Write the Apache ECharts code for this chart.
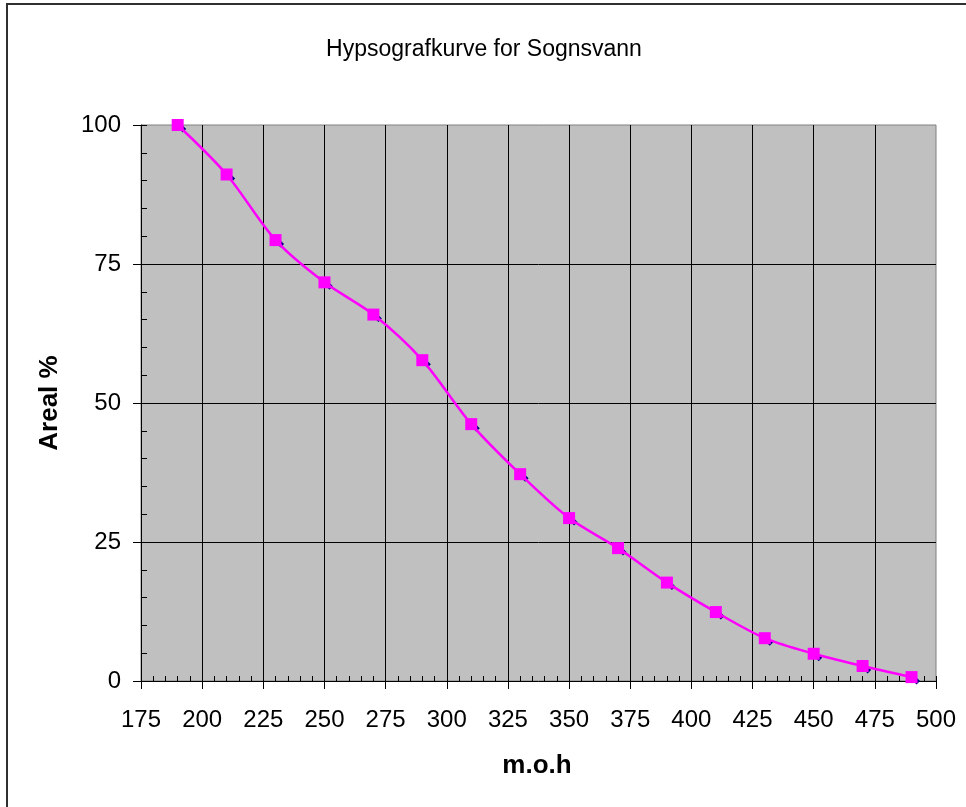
<!DOCTYPE html>
<html>
<head>
<meta charset="utf-8">
<script src="https://cdn.jsdelivr.net/npm/echarts@6/dist/echarts.min.js"></script>
<style>html,body{margin:0;padding:0;background:#fff;}#c{width:966px;height:807px;}</style>
</head>
<body>
<div id="c"></div>
<script>
const titleText = 'Hypsografkurve for Sognsvann';
const xName = 'm.o.h';
const yName = 'Areal %';
const elevation = [190, 210, 230, 250, 270, 290, 310, 330, 350, 370, 390, 410, 430, 450, 470, 490];
const areaPct = [100, 91.1, 79.3, 71.7, 65.9, 57.7, 46.2, 37.2, 29.3, 23.9, 17.7, 12.4, 7.7, 4.9, 2.7, 0.7];

const pts = elevation.map((x, i) => [x, areaPct[i]]);
const font = 'Liberation Sans, Arial, sans-serif';

const chart = echarts.init(document.getElementById('c'), null, {renderer: 'canvas'});
chart.setOption({
  animation: false,
  backgroundColor: '#ffffff',
  title: {
    text: titleText, left: 479, top: 33, textAlign: 'center',
    textStyle: {fontFamily: font, fontSize: 23, fontWeight: 'normal', color: '#000'}
  },
  graphic: [{
    type: 'rect', shape: {x: 7, y: 4, width: 1100, height: 1100},
    style: {fill: null, stroke: '#303030', lineWidth: 2}, silent: true, z: 100
  }, {
    type: 'text', x: 537, y: 766,
    style: {text: xName, font: 'bold 26px ' + font, fill: '#000', align: 'center', verticalAlign: 'middle'}
  }, {
    type: 'text', x: 50, y: 403, rotation: Math.PI / 2,
    style: {text: yName, font: 'bold 26px ' + font, fill: '#000', align: 'center', verticalAlign: 'middle'}
  }],
  grid: {
    left: 141, top: 125, right: 30, bottom: 126,
    show: true, backgroundColor: '#C0C0C0', borderColor: '#808080', borderWidth: 1
  },
  xAxis: [{
    type: 'value', min: 175, max: 500, interval: 25,
    axisLine: {show: true, lineStyle: {color: '#000', width: 1}},
    axisTick: {show: true, inside: false, length: 8, lineStyle: {color: '#000'}},
    axisLabel: {fontFamily: font, fontSize: 24, color: '#000', margin: 27},
    splitLine: {show: true, showMinLine: false, showMaxLine: false, lineStyle: {color: '#000', width: 1}}
  }, {
    type: 'value', min: 175, max: 500, interval: 5, position: 'bottom',
    axisLine: {show: false},
    axisTick: {show: true, inside: true, length: 5, lineStyle: {color: '#000'}},
    axisLabel: {show: false},
    splitLine: {show: false}
  }],
  yAxis: [{
    type: 'value', min: 0, max: 100, interval: 25,
    axisLine: {show: true, lineStyle: {color: '#000', width: 1}},
    axisTick: {show: true, inside: false, length: 8, lineStyle: {color: '#000'}},
    axisLabel: {fontFamily: font, fontSize: 24, color: '#000', margin: 20},
    splitLine: {show: true, showMinLine: false, showMaxLine: false, lineStyle: {color: '#000', width: 1}}
  }, {
    type: 'value', min: 0, max: 100, interval: 5, position: 'left',
    axisLine: {show: false},
    axisTick: {show: true, inside: true, length: 6, lineStyle: {color: '#000'}},
    axisLabel: {show: false},
    splitLine: {show: false}
  }],
  series: [{
    type: 'line', data: pts, xAxisIndex: 0, yAxisIndex: 0,
    symbol: 'diamond', symbolSize: 7, symbolOffset: [5, 4],
    itemStyle: {color: '#000080'},
    lineStyle: {opacity: 0}, z: 2
  }, {
    type: 'line', data: pts, xAxisIndex: 0, yAxisIndex: 0,
    smooth: 0.3,
    symbol: 'rect', symbolSize: 12,
    itemStyle: {color: '#FF00FF'},
    lineStyle: {color: '#FF00FF', width: 2.5}, z: 3
  }]
});
</script>
</body>
</html>
